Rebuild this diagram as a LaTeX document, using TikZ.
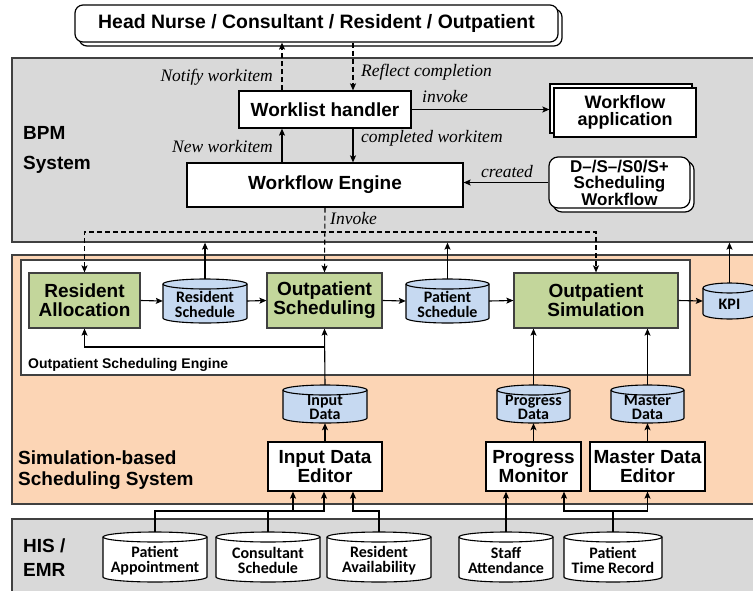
\documentclass[tikz,border=0pt]{standalone}
\usepackage{fontspec}
\setmainfont{Liberation Sans}
\newfontfamily\itserif{Liberation Serif}
\newfontfamily\calib{Carlito}
\usetikzlibrary{arrows.meta}
\definecolor{panelgray}{HTML}{D9D9D9}
\definecolor{paneledge}{HTML}{404040}
\definecolor{peach}{HTML}{FCD5B5}
\definecolor{procgreen}{HTML}{C3D69B}
\definecolor{datablue}{HTML}{C6D9F1}
\newcommand\fs[2]{\fontsize{#1}{#2}\selectfont}
\newcommand\dbcyl[7]{%
  \pgfmathsetmacro\cylrx{(#4-#2)/2}%
  \pgfmathsetmacro\cylcx{(#4+#2)/2}%
  \pgfmathsetmacro\cylcy{(#5+#3)/2}%
  \pgfmathsetmacro\cylw{#4-#2}%
  \pgfmathsetmacro\cylh{#5-#3}%
  \filldraw[cylline, fill=#6] (#2,#3+5) -- (#2,#5-5) arc[start angle=180, end angle=0, x radius=\cylrx, y radius=5] -- (#4,#3+5) arc[start angle=0, end angle=-180, x radius=\cylrx, y radius=5] -- cycle;
  \draw[cylline] (#2,#3+5) arc[start angle=180, end angle=0, x radius=\cylrx, y radius=5];
  \node[inner sep=0pt, minimum width=\cylw pt, minimum height=\cylh pt] (#1) at (\cylcx,\cylcy) {};
  \node[cyltext] (#1-t) at (\cylcx,\cylcy+3.5) {#7};
}
\begin{document}
\begin{tikzpicture}[x=1pt,y=-1pt,
  panel/.style={draw=paneledge, line width=1.3pt, inner sep=0pt},
  pbox/.style={draw=black, fill=white, line width=1.2pt, inner sep=0pt, align=center, font=\bfseries\fs{19}{19}},
  shbox/.style={draw=black, fill=white, line width=1.2pt, inner sep=0pt},
  proc/.style={draw=paneledge, fill=procgreen, line width=1.2pt, inner sep=0pt, align=center, font=\bfseries\fs{19}{19}},
  cylline/.style={draw=black, line width=1.1pt},
  cyltext/.style={font=\calib\bfseries\fs{16}{14.5}, align=center, inner sep=0pt},
  plabel/.style={font=\bfseries\fs{19}{19}, align=left, inner sep=0pt, anchor=west},
  elabel/.style={font=\itserif\itshape\fs{17.5}{17.5}, inner sep=0pt},
  arr/.style={line width=1.1pt, -{Stealth[length=7pt,width=6pt,inset=1.5pt]}},
  dasharr/.style={arr, dash pattern=on 5pt off 3pt},
]
\useasboundingbox (0,0) rectangle (753,590);
\clip (0,0) rectangle (753,590);

% panels
\node[panel, fill=panelgray, minimum width=748pt, minimum height=184pt] (bpm) at (386,150) {};
\node[panel, fill=peach, minimum width=748pt, minimum height=249pt] (sss) at (386,379.5) {};
\node[panel, fill=panelgray, minimum width=748pt, minimum height=81pt] (his) at (386,559.5) {};
\node[panel, fill=white, minimum width=669pt, minimum height=115pt] (ose) at (355.5,317.5) {};

\node[plabel, font=\bfseries\fs{19}{30}] (bpml) at (23,150) {BPM\\System};
\node[plabel, font=\bfseries\fs{19}{21.5}] (sssl) at (18,470) {Simulation-based\\Scheduling System};
\node[plabel, font=\bfseries\fs{19}{24}] (hisl) at (23,558) {HIS /\\EMR};
\node[plabel, font=\bfseries\fs{14}{14}, anchor=base west] (osel) at (28,368) {Outpatient Scheduling Engine};

% BPM nodes (copies behind first)
\node[shbox, rounded corners=8pt, minimum width=483pt, minimum height=37pt] (users-sh) at (320.5,27.5) {};
\node[pbox, rounded corners=8pt, minimum width=483pt, minimum height=37pt, font=\bfseries\fs{19.4}{19.4}] (users) at (316.5,23.5) {Head Nurse / Consultant / Resident / Outpatient};
\node[pbox, minimum width=172pt, minimum height=37pt] (wl) at (325,109.5) {Worklist handler};
\node[pbox, minimum width=276pt, minimum height=44pt] (we) at (325,185) {Workflow Engine};
\node[shbox, minimum width=142pt, minimum height=49pt] (wa-sh) at (621,108.5) {};
\node[pbox, font=\bfseries\fs{18}{17}, minimum width=142pt, minimum height=49pt] (wa) at (625,112.5) {Workflow\\application};
\node[shbox, rounded corners=9pt, minimum width=141pt, minimum height=51pt] (dsw-sh) at (623.5,186.5) {};
\node[pbox, rounded corners=9pt, font=\bfseries\fs{17}{16.5}, minimum width=141pt, minimum height=51pt] (dsw) at (619.5,182.5) {D–/S–/S0/S+\\Scheduling\\Workflow};

\coordinate (xn) at (282,0);
\coordinate (xr) at (353,0);
\coordinate (yinv) at (0,232);

\draw[dasharr] (wl.north -| xn) -- (users.south -| xn);
\draw[dasharr] (users.south -| xr) -- (wl.north -| xr);
\draw[arr] (we.north -| xn) -- (wl.south -| xn);
\draw[arr] (wl.south -| xr) -- (we.north -| xr);
\draw[arr] (wl.east) -- (wl.east -| wa-sh.west);
\draw[arr] (dsw.west) -- (dsw.west -| we.east);

\node[elabel, anchor=east] (l1) at (273,77) {Notify workitem};
\node[elabel, anchor=west] (l2) at (361,72) {Reflect completion};
\node[elabel] (l3) at (445,97) {invoke};
\node[elabel, anchor=west] (l4) at (361,138) {completed workitem};
\node[elabel, anchor=east] (l5) at (273,147) {New workitem};
\node[elabel] (l6) at (507,172) {created};
\node[elabel, anchor=west] (l7) at (330,219) {Invoke};

% engine nodes
\node[proc, minimum width=111pt, minimum height=55pt] (ra) at (84.5,300.5) {Resident\\Allocation};
\node[proc, minimum width=115pt, minimum height=55pt] (os) at (324.5,300.5) {Outpatient\\Scheduling};
\node[proc, minimum width=164pt, minimum height=55pt] (sim) at (596,300.5) {Outpatient\\Simulation};
\dbcyl{rs}{163}{279}{247}{323}{datablue}{Resident\\Schedule}
\dbcyl{ps}{406}{279}{489}{323}{datablue}{Patient\\Schedule}
\dbcyl{kpi}{703}{283}{756}{319}{datablue}{KPI}

\draw[dasharr] (we.south) -- (os.north);
\draw[dash pattern=on 5pt off 3pt, line width=1.1pt, {Stealth[length=7pt,width=6pt,inset=1.5pt]}-{Stealth[length=7pt,width=6pt,inset=1.5pt]}] (ra.north) -- (ra.north |- yinv) -- (sim.north |- yinv) -- (sim.north);

\draw[arr] (ra.east) -- (rs.west);
\draw[arr] (rs.east) -- (os.west);
\draw[arr] (os.east) -- (ps.west);
\draw[arr] (ps.east) -- (sim.west);
\draw[arr] (sim.east) -- (kpi.west);
\draw[arr] (rs.north) -- (rs.north |- bpm.south);
\draw[arr] (ps.north) -- (ps.north |- bpm.south);
\draw[arr] (kpi.north) -- (kpi.north |- bpm.south);

% data stores
\dbcyl{id}{283}{385}{367}{423}{datablue}{Input\\Data}
\dbcyl{pd}{497}{385}{570}{423}{datablue}{Progress\\Data}
\dbcyl{md}{611}{385}{684}{423}{datablue}{Master\\Data}

\coordinate (yfb) at (0,347);
\draw[arr] (id.north) -- (os.south);
\draw[arr] (id.north |- yfb) -| (ra.south);
\draw[arr] (pd.north) -- (pd.north |- sim.south);
\draw[arr] (md.north) -- (md.north |- sim.south);

% editors
\node[pbox, minimum width=114pt, minimum height=49pt] (ide) at (325,466.5) {Input Data\\Editor};
\node[pbox, minimum width=95pt, minimum height=49pt] (pm) at (533.5,466.5) {Progress\\Monitor};
\node[pbox, minimum width=115pt, minimum height=49pt] (mde) at (647.5,466.5) {Master Data\\Editor};
\draw[arr] (ide.north) -- (id.south);
\draw[arr] (pm.north) -- (pd.south);
\draw[arr] (mde.north) -- (md.south);

% HIS stores
\dbcyl{pa}{103}{532}{207}{582}{white}{Patient\\Appointment}
\dbcyl{cs}{216}{532}{320}{582}{white}{Consultant\\Schedule}
\dbcyl{rav}{327}{532}{431}{582}{white}{Resident\\Availability}
\dbcyl{sa}{459}{532}{553}{582}{white}{Staff\\Attendance}
\dbcyl{ptr}{564}{532}{662}{582}{white}{Patient\\Time Record}

\coordinate (yh) at (0,511);
\coordinate (xa) at (293,0);
\coordinate (xb) at (324,0);
\coordinate (xc) at (353,0);
\coordinate (xp) at (564,0);
\draw[arr] (pa.north) |- (yh -| xa) -- (ide.south -| xa);
\draw[arr] (cs.north) |- (yh -| xb) -- (ide.south -| xb);
\draw[arr] (rav.north) |- (yh -| xc) -- (ide.south -| xc);
\draw[arr] (sa.north) -- (sa.north |- pm.south);
\draw[arr] (ptr.north) |- (yh -| xp) -- (pm.south -| xp);
\draw[arr] (ptr.north |- yh) -| (mde.south);
\end{tikzpicture}
\end{document}
